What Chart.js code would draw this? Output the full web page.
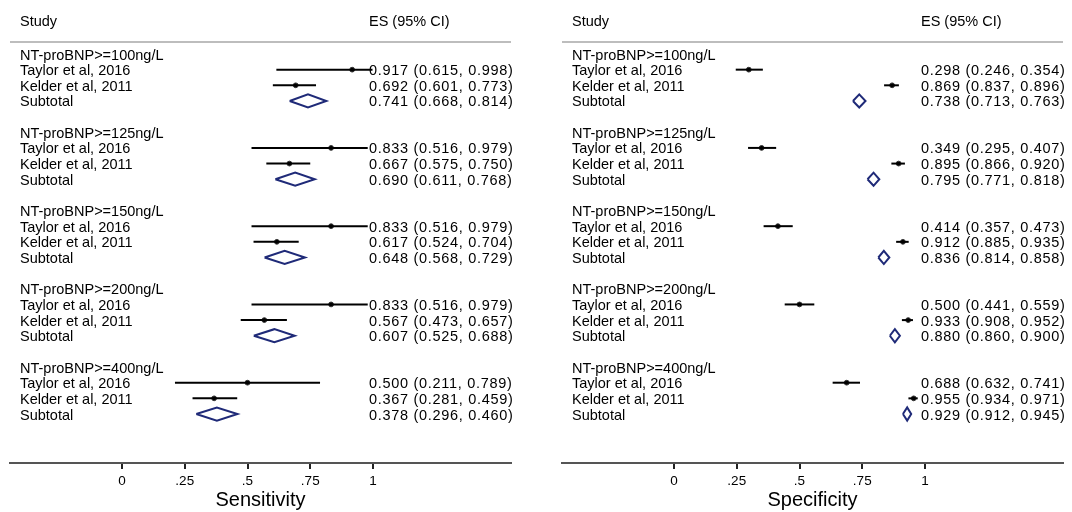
<!DOCTYPE html>
<html>
<head>
<meta charset="utf-8">
<script src="https://cdn.jsdelivr.net/npm/chart.js@4/dist/chart.umd.min.js"></script>
<style>
  html, body { margin: 0; padding: 0; background: #fff; overflow: hidden; }
  canvas { position: absolute; top: 0; }
  #sens { left: 0; }
  #spec { left: 551px; }
</style>
</head>
<body>
<canvas id="sens" width="536" height="512"></canvas>
<canvas id="spec" width="521" height="512"></canvas>
<script>
// groups (cut-offs) and studies
const thresholds = ['NT-proBNP>=100ng/L', 'NT-proBNP>=125ng/L', 'NT-proBNP>=150ng/L', 'NT-proBNP>=200ng/L', 'NT-proBNP>=400ng/L'];
const studies = ['Taylor et al, 2016', 'Kelder et al, 2011'];

// [ES, lower, upper] per threshold
const sensTaylor   = [[0.917, 0.615, 0.998], [0.833, 0.516, 0.979], [0.833, 0.516, 0.979], [0.833, 0.516, 0.979], [0.500, 0.211, 0.789]];
const sensKelder   = [[0.692, 0.601, 0.773], [0.667, 0.575, 0.750], [0.617, 0.524, 0.704], [0.567, 0.473, 0.657], [0.367, 0.281, 0.459]];
const sensSubtotal = [[0.741, 0.668, 0.814], [0.690, 0.611, 0.768], [0.648, 0.568, 0.729], [0.607, 0.525, 0.688], [0.378, 0.296, 0.460]];

const specTaylor   = [[0.298, 0.246, 0.354], [0.349, 0.295, 0.407], [0.414, 0.357, 0.473], [0.500, 0.441, 0.559], [0.688, 0.632, 0.741]];
const specKelder   = [[0.869, 0.837, 0.896], [0.895, 0.866, 0.920], [0.912, 0.885, 0.935], [0.933, 0.908, 0.952], [0.955, 0.934, 0.971]];
const specSubtotal = [[0.738, 0.713, 0.763], [0.795, 0.771, 0.818], [0.836, 0.814, 0.858], [0.880, 0.860, 0.900], [0.929, 0.912, 0.945]];

const tickValues = [0, 0.25, 0.5, 0.75, 1];
const tickLabels = ['0', '.25', '.5', '.75', '1'];

const FONT = '"Liberation Sans", Arial, sans-serif';
const NAVY = '#1f2a78';
const fmt = r => `${r[0].toFixed(3)} (${r[1].toFixed(3)}, ${r[2].toFixed(3)})`;

// rows: header, study 1, study 2, subtotal, blank
function buildRows(taylor, kelder, subtotal) {
  const rows = [];
  thresholds.forEach((t, g) => {
    const base = g * 5;
    rows.push({ row: base, label: t });
    rows.push({ row: base + 1, label: studies[0], est: taylor[g], kind: 'study' });
    rows.push({ row: base + 2, label: studies[1], est: kelder[g], kind: 'study' });
    rows.push({ row: base + 3, label: 'Subtotal', est: subtotal[g], kind: 'sub' });
  });
  return rows;
}

function makeForest(id, title, taylor, kelder, subtotal, pad) {
  const rows = buildRows(taylor, kelder, subtotal);
  const datasets = [];
  rows.filter(r => r.kind === 'study').forEach(r => {
    datasets.push({
      data: [{ x: r.est[1], y: r.row }, { x: r.est[2], y: r.row }],
      showLine: true, borderColor: '#000', borderWidth: 2, pointRadius: 0
    });
  });
  datasets.push({
    data: rows.filter(r => r.kind === 'study').map(r => ({ x: r.est[0], y: r.row })),
    showLine: false, pointRadius: 2.4, pointBackgroundColor: '#000',
    pointBorderColor: '#333', pointBorderWidth: 1
  });
  rows.filter(r => r.kind === 'sub').forEach(r => {
    const h = 0.42;
    datasets.push({
      data: [
        { x: r.est[1], y: r.row }, { x: r.est[0], y: r.row - h },
        { x: r.est[2], y: r.row }, { x: r.est[0], y: r.row + h },
        { x: r.est[1], y: r.row }
      ],
      showLine: true, borderColor: NAVY, borderWidth: 2, pointRadius: 0,
      borderJoinStyle: 'miter', tension: 0
    });
  });

  const textPlugin = {
    id: 'forestText',
    afterDraw(chart) {
      const { ctx, chartArea: a, scales: { y } } = chart;
      ctx.save();
      // grey rule under the header
      ctx.strokeStyle = '#bdbdbd';
      ctx.lineWidth = 2;
      ctx.beginPath();
      ctx.moveTo(a.left, a.top);
      ctx.lineTo(a.right, a.top);
      ctx.stroke();

      ctx.fillStyle = '#000';
      ctx.textBaseline = 'middle';
      ctx.font = `14.5px ${FONT}`;
      const labelX = a.left + 10;
      const esX = a.left + 359;
      const hy = y.getPixelForValue(-2.1) + 1;
      ctx.fillText('Study', labelX, hy);
      ctx.fillText('ES (95% CI)', esX, hy);
      rows.forEach(r => {
        const py = y.getPixelForValue(r.row) + 1.5;
        ctx.letterSpacing = '0px';
        ctx.fillText(r.label, labelX, py);
        if (r.est) {
          ctx.letterSpacing = '0.7px';
          ctx.fillText(fmt(r.est), esX, py);
        }
      });
      ctx.restore();
    }
  };

  return new Chart(document.getElementById(id), {
    type: 'scatter',
    data: { datasets },
    options: {
      responsive: false,
      animation: false,
      layout: { padding: { left: pad[0], right: pad[1], top: 42, bottom: 0 } },
      plugins: { legend: { display: false }, tooltip: { enabled: false } },
      scales: {
        x: {
          type: 'linear', min: -112 / 251, max: 389 / 251,
          afterBuildTicks: s => { s.ticks = tickValues.map(v => ({ value: v })); },
          afterFit: s => { s.height = 49; },
          grid: { drawOnChartArea: false, drawTicks: true, tickLength: 6, color: '#222', lineWidth: 2 },
          border: { display: true, color: '#555', width: 2 },
          ticks: {
            color: '#000', font: { family: FONT, size: 13.5 }, padding: 4, maxRotation: 0,
            callback: v => tickLabels[tickValues.indexOf(v)]
          },
          title: { display: true, text: title, color: '#000', font: { family: FONT, size: 20 }, padding: { top: 0, bottom: 0 } }
        },
        y: {
          type: 'linear', reverse: true, min: -0.767, max: 26.13, display: false
        }
      }
    },
    plugins: [textPlugin]
  });
}

makeForest('sens', 'Sensitivity', sensTaylor, sensKelder, sensSubtotal, [10, 25]);
makeForest('spec', 'Specificity', specTaylor, specKelder, specSubtotal, [11, 9]);
</script>
</body>
</html>
